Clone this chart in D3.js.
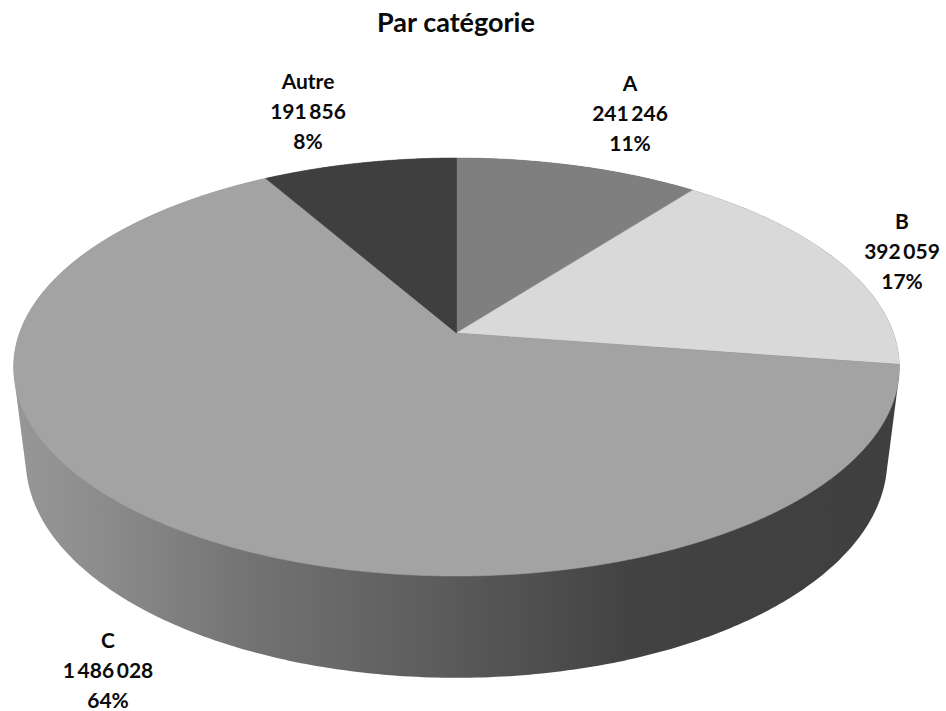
<!DOCTYPE html>
<html><head><meta charset="utf-8">
<script src="https://cdnjs.cloudflare.com/ajax/libs/d3/7.8.5/d3.min.js"></script>
<style>html,body{margin:0;padding:0;background:#fff}svg{display:block}text{font-family:Lato,"Open Sans",sans-serif;font-weight:700;fill:#0a0a0a}</style>
</head><body><svg id="c" width="946" height="711"></svg>
<script>
// Data
const categories = ["A", "B", "C", "Autre"];
const values = [241246, 392059, 1486028, 191856];
const percentLabels = ["11%", "17%", "64%", "8%"];
const title = "Par catégorie";

// Style + layout (separate from data)
const sliceColors = ["#7f7f7f", "#d9d9d9", "#a3a3a3", "#3f3f3f"];
const wallStops = [[0, "#979797"], [0.1, "#8c8c8c"], [0.267, "#737373"], [0.35, "#6a6a6a"], [0.48, "#5c5c5c"], [0.7, "#424242"], [1, "#3f3f3f"]];
const labelCenters = [[630, 84], [902, 222], [108, 641], [308, 82]];
const W = 946, H = 711;
const apex = [456.5, 333], persp = 0.1627;
const topRim = {cy: 333, rx: 437, ry: 203.5};
const lowRim = {cy: 424.6, rx: 425, ry: 212};

const svg = d3.select("#c");
const fr = d3.formatLocale({decimal: ",", thousands: "\u2009", grouping: [3], currency: ["", " €"]});
const fmt = fr.format(",d");

// perspective projection of a point of the unit disc, angle a clockwise from 12 o'clock
const project = (a, r, rim) => {
  const x = r * Math.sin(a), y = -r * Math.cos(a), w = 1 - persp * y;
  return [apex[0] + rim.rx * x / w, rim.cy + rim.ry * y / w];
};
const line = d3.line();
const arcs = d3.pie().sort(null).startAngle(0).endAngle(2 * Math.PI)(values);
const circle = d3.range(0, 2 * Math.PI, Math.PI / 240);

// Side wall = hull of upper rim and lower rim
const hull = d3.polygonHull(circle.flatMap(a => [project(a, 1, topRim), project(a, 1, lowRim)]));
const grad = svg.append("defs").append("linearGradient").attr("id", "wall")
  .attr("gradientUnits", "userSpaceOnUse").attr("x1", 13).attr("x2", 900).attr("y1", 0).attr("y2", 0);
wallStops.forEach(s => grad.append("stop").attr("offset", s[0]).attr("stop-color", s[1]));
svg.append("path").attr("d", line(hull) + "Z").attr("fill", "url(#wall)");

// Top face
svg.append("g").selectAll("path").data(arcs).join("path")
  .attr("fill", (d, i) => sliceColors[i])
  .attr("stroke", (d, i) => sliceColors[i]).attr("stroke-width", 0.5)
  .attr("d", d => {
    const n = Math.ceil((d.endAngle - d.startAngle) / 0.005);
    const pts = d3.range(n + 1).map(k => project(d.startAngle + (d.endAngle - d.startAngle) * k / n, 1, topRim));
    return line([[apex[0], topRim.cy], ...pts]) + "Z";
  });

// Labels
svg.append("text").attr("x", 456).attr("y", 32).attr("text-anchor", "middle").attr("font-size", 27).text(title);
const lab = svg.append("g").selectAll("text").data(categories).join("text")
  .attr("text-anchor", "middle").attr("font-size", 21);
lab.each(function (c, i) {
  const t = d3.select(this), [x, y] = labelCenters[i];
  [c, fmt(values[i]), percentLabels[i]].forEach((s, k) =>
    t.append("tspan").attr("x", x).attr("y", y + 7 + k * 30).text(s));
});
</script></body></html>
